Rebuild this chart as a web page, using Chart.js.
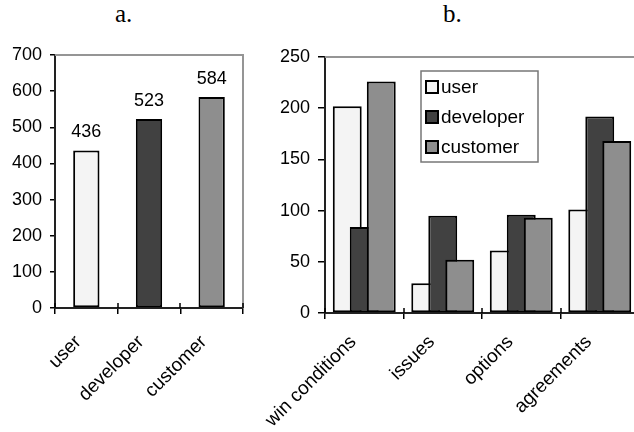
<!DOCTYPE html>
<html>
<head>
<meta charset="utf-8">
<script src="https://cdn.jsdelivr.net/npm/chart.js@4/dist/chart.umd.min.js"></script>
<style>
    html, body { margin: 0; padding: 0; background: #fff; }
    body { position: relative; width: 634px; height: 432px; overflow: hidden; }
    .panel { position: absolute; top: 0; height: 432px; }
    #panelA { left: 0; width: 260px; }
    #panelB { left: 250px; width: 410px; }
    .cap { position: absolute; top: 1px; font: 25px "Liberation Serif", "Times New Roman", serif; color: #000; line-height: 25px; }
</style>
</head>
<body>
<div class="cap" style="left:115px">a.</div>
<div class="cap" style="left:443px">b.</div>
<div class="panel" id="panelA"><canvas id="chartA" width="260" height="432"></canvas></div>
<div class="panel" id="panelB"><canvas id="chartB" width="410" height="432"></canvas></div>

<script>
/* ── data ─────────────────────────────────────────── */
const roles = ['user', 'developer', 'customer'];
const roleTotals = [436, 523, 584];
const yTicksA = [0, 100, 200, 300, 400, 500, 600, 700];

const artifactTypes = ['win conditions', 'issues', 'options', 'agreements'];
const userCounts = [202, 29, 61, 101];
const developerCounts = [84, 95, 96, 192];
const customerCounts = [226, 52, 93, 168];
const yTicksB = [0, 50, 100, 150, 200, 250];

const roleColors = ['#f4f4f4', '#414141', '#8e8e8e'];

/* ── shared bits ──────────────────────────────────── */
const FONT = "'Liberation Sans', Arial, sans-serif";

// grey frame on top (and right) of the plot area, like the old Excel look
const plotFrame = {
    id: 'plotFrame',
    afterDraw(chart, args, opts) {
        const { ctx, chartArea: a } = chart;
        ctx.save();
        ctx.strokeStyle = '#959595';
        ctx.lineWidth = 2;
        ctx.beginPath();
        ctx.moveTo(a.left, a.top);
        ctx.lineTo(a.right, a.top);
        if (opts.right) ctx.lineTo(a.right, a.bottom);
        ctx.stroke();
        // category ticks cross the baseline
        const xs = chart.scales.x;
        ctx.strokeStyle = '#000';
        ctx.lineWidth = 1.5;
        ctx.beginPath();
        for (let i = 0; i <= xs.ticks.length; i++) {
            const px = Math.round(a.left + (a.right - a.left) * i / xs.ticks.length);
            ctx.moveTo(px, a.bottom - 5);
            ctx.lineTo(px, a.bottom);
        }
        ctx.stroke();
        ctx.restore();
    }
};

function yScale(ticks, width, tickLen) {
    return {
        min: ticks[0],
        max: ticks[ticks.length - 1],
        ticks: { stepSize: ticks[1] - ticks[0], color: '#000', font: { family: FONT, size: 18 }, padding: 8 },
        grid: { drawOnChartArea: false, color: '#000', lineWidth: 1.5, tickLength: tickLen },
        border: { color: '#222', width: 2 },
        afterFit: s => { s.width = width; }
    };
}

function xScale(height, pad, shift) {
    return {
        offset: true,
        grid: { drawOnChartArea: false, color: '#000', lineWidth: 1.5, tickLength: 6, offset: true },
        border: { color: '#222', width: 2 },
        ticks: {
            color: '#000', font: { family: FONT, size: 19 },
            minRotation: 45, maxRotation: 45, autoSkip: false, padding: pad, labelOffset: shift
        },
        afterFit: s => { s.height = height; }
    };
}

/* ── a. totals per role ───────────────────────────── */
const valueLabels = {
    id: 'valueLabels',
    afterDatasetsDraw(chart) {
        const ctx = chart.ctx;
        const meta = chart.getDatasetMeta(0);
        ctx.save();
        ctx.fillStyle = '#000';
        ctx.font = '18px ' + FONT;
        ctx.textAlign = 'center';
        ctx.textBaseline = 'alphabetic';
        meta.data.forEach((bar, i) => {
            ctx.fillText(String(roleTotals[i]), bar.x, bar.y - 13);
        });
        ctx.restore();
    }
};

new Chart(document.getElementById('chartA'), {
    type: 'bar',
    data: {
        labels: roles,
        datasets: [{
            data: roleTotals,
            backgroundColor: roleColors,
            borderColor: '#000',
            borderWidth: 2,
            borderSkipped: false,
            barPercentage: 0.42,
            categoryPercentage: 1
        }]
    },
    options: {
        responsive: false,
        animation: false,
        layout: { padding: { top: 55, right: 17, left: 0, bottom: 0 } },
        plugins: { legend: { display: false }, tooltip: { enabled: false }, plotFrame: { right: true } },
        scales: { x: xScale(124, 17, -8), y: yScale(yTicksA, 55, 5) }
    },
    plugins: [plotFrame, valueLabels]
});

/* ── b. counts per artifact type ──────────────────── */
// Excel-style overlap: draw series left to right so the later one sits on top
const forwardDraw = {
    id: 'forwardDraw',
    beforeDatasetsDraw(chart) {
        chart.data.datasets.forEach((ds, i) => {
            const meta = chart.getDatasetMeta(i);
            if (meta.visible) meta.controller.draw();
        });
        return false;
    }
};

const boxLegend = {
    id: 'boxLegend',
    afterDraw(chart) {
        const ctx = chart.ctx;
        const x = 171, y = 71, w = 117, h = 91;
        ctx.save();
        ctx.fillStyle = '#fff';
        ctx.fillRect(x, y, w, h);
        ctx.strokeStyle = '#777';
        ctx.lineWidth = 1.5;
        ctx.strokeRect(x, y, w, h);
        ctx.font = '19px ' + FONT;
        ctx.textBaseline = 'middle';
        chart.data.datasets.forEach((ds, i) => {
            const cy = y + 16 + i * 30;
            ctx.fillStyle = ds.backgroundColor;
            ctx.fillRect(x + 5, cy - 6, 12, 12);
            ctx.strokeStyle = '#000';
            ctx.lineWidth = 2;
            ctx.strokeRect(x + 5, cy - 6, 12, 12);
            ctx.fillStyle = '#000';
            ctx.fillText(ds.label, x + 20, cy + 1);
        });
        ctx.restore();
    }
};

const seriesB = [userCounts, developerCounts, customerCounts];

new Chart(document.getElementById('chartB'), {
    type: 'bar',
    data: {
        labels: artifactTypes,
        datasets: roles.map((r, i) => ({
            label: r,
            data: seriesB[i],
            backgroundColor: roleColors[i],
            borderColor: '#000',
            borderWidth: 2,
            borderSkipped: false,
            barPercentage: 1.7,
            categoryPercentage: 0.65
        }))
    },
    options: {
        responsive: false,
        animation: false,
        layout: { padding: { top: 57, right: 21, left: 0, bottom: 0 } },
        plugins: { legend: { display: false }, tooltip: { enabled: false }, plotFrame: { right: false } },
        scales: { x: xScale(119, 12, -11), y: yScale(yTicksB, 75, 7) }
    },
    plugins: [forwardDraw, plotFrame, boxLegend]
});
</script>
</body>
</html>
